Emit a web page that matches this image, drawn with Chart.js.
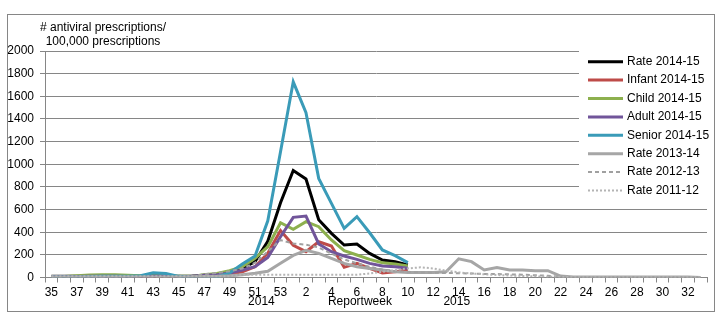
<!DOCTYPE html>
<html>
<head>
<meta charset="utf-8">
<script src="https://cdn.jsdelivr.net/npm/chart.js@4"></script>
<style>
  body { margin: 0; background: #fff; }
  canvas { display: block; }
</style>
</head>
<body>
<canvas id="rxChart" width="721" height="329"></canvas>
<script>
// Report weeks: 35-53 of 2014, then 1-33 of 2015
const weeks = [35, 36, 37, 38, 39, 40, 41, 42, 43, 44, 45, 46, 47, 48, 49, 50, 51, 52, 53,
  1, 2, 3, 4, 5, 6, 7, 8, 9, 10, 11, 12, 13, 14, 15, 16, 17, 18, 19, 20, 21, 22, 23, 24, 25,
  26, 27, 28, 29, 30, 31, 32, 33];

// 2014-15 season, weeks 35 through 10
const rate1415 = [8, 8, 10, 12, 15, 15, 12, 12, 15, 12, 10, 10, 20, 25, 40, 80, 140, 320, 660,
  945, 870, 510, 390, 287, 296, 213, 154, 139, 110];
const infant1415 = [5, 5, 5, 5, 8, 8, 5, 5, 5, 3, 2, 2, 10, 15, 30, 50, 95, 215, 415,
  285, 228, 316, 278, 90, 125, 81, 40, 51, 66];
const child1415 = [10, 10, 15, 22, 25, 25, 20, 15, 15, 12, 10, 10, 25, 35, 60, 95, 170, 272, 484,
  425, 493, 449, 331, 237, 199, 160, 131, 119, 101];
const adult1415 = [10, 10, 8, 10, 10, 10, 8, 8, 10, 10, 8, 10, 20, 25, 40, 66, 95, 178, 360,
  531, 543, 296, 228, 190, 160, 125, 101, 95, 81];
const senior1415 = [5, 5, 5, 8, 10, 10, 10, 15, 42, 35, 10, 3, 5, 5, 40, 120, 190, 500, 1110,
  1728, 1455, 875, 655, 434, 537, 395, 243, 193, 131];

// earlier seasons, full year
const rate1314 = [5, 5, 5, 5, 5, 5, 5, 5, 5, 5, 5, 5, 8, 10, 15, 25, 37, 55, 125,
  195, 240, 213, 169, 125, 95, 80, 66, 51, 45, 45, 45, 50, 165, 140, 66, 87, 66, 66, 60, 60, 13,
  5, 5, 5, 5, 5, 5, 5, 5, 5, 5, 0];
const rate1213 = [5, 5, 5, 5, 5, 5, 5, 5, 5, 5, 5, 8, 30, 40, 55, 80, 130, 230, 330,
  300, 290, 265, 210, 160, 125, 95, 70, 55, 50, 45, 42, 40, 38, 35, 32, 30, 28, 25, 20, 15, 8,
  3, 3, 3, 3, 3, 3, 3, 3, 3, 3, 3];
const rate1112 = [10, 10, 10, 10, 10, 10, 10, 10, 10, 10, 10, 10, 10, 10, 10, 25, 25, 25, 25,
  25, 25, 25, 25, 25, 25, 35, 50, 65, 80, 90, 80, 60, 45, 35, 28, 22, 18, 14, 10, 7, 5,
  3, 3, 3, 3, 3, 3, 3, 3, 3, 3, 3];

const yTitle = ['# antiviral prescriptions/', '100,000 prescriptions'];
const FONT = '"Liberation Sans", Arial, sans-serif';

const series = [
  { label: 'Rate 2014-15', data: rate1415, color: '#000000', width: 3, dash: [] },
  { label: 'Infant 2014-15', data: infant1415, color: '#BE4B48', width: 3, dash: [] },
  { label: 'Child 2014-15', data: child1415, color: '#8DB04E', width: 3, dash: [] },
  { label: 'Adult 2014-15', data: adult1415, color: '#71559A', width: 3, dash: [] },
  { label: 'Senior 2014-15', data: senior1415, color: '#3A9BB8', width: 3, dash: [] },
  { label: 'Rate 2013-14', data: rate1314, color: '#A6A6A6', width: 3, dash: [] },
  { label: 'Rate 2012-13', data: rate1213, color: '#A0A0A0', width: 2, dash: [4, 3] },
  { label: 'Rate 2011-12', data: rate1112, color: '#B4B4B4', width: 2, dash: [2, 2] }
];

// frame, axis title, year captions and the legend box drawn over the plot
const overlay = {
  id: 'overlay',
  afterDraw(chart) {
    const ctx = chart.ctx;
    const xs = chart.scales.x;
    ctx.save();
    ctx.strokeStyle = '#868686';
    ctx.lineWidth = 1;
    ctx.strokeRect(7.5, 14.5, 707, 297);

    ctx.fillStyle = '#000';
    ctx.font = '12px ' + FONT;
    ctx.textAlign = 'center';
    ctx.textBaseline = 'middle';
    yTitle.forEach((t, i) => ctx.fillText(t, 103, 28 + i * 14));

    const rowY = 302;
    ctx.fillText('2014', (xs.getPixelForValue(16) + xs.getPixelForValue(17)) / 2, rowY);
    ctx.fillText('Reportweek', xs.getPixelForValue(24) + 3, rowY);
    ctx.fillText('2015', xs.getPixelForValue(32) - 2, rowY);

    ctx.fillStyle = '#fff';
    ctx.fillRect(579, 46, 134, 152);
    ctx.textAlign = 'left';
    chart.data.datasets.forEach((ds, i) => {
      const y = 61.7 + i * 18.4;
      ctx.beginPath();
      ctx.strokeStyle = ds.borderColor;
      ctx.lineWidth = ds.borderWidth;
      ctx.setLineDash(ds.borderDash);
      ctx.moveTo(588, y);
      ctx.lineTo(623, y);
      ctx.stroke();
      ctx.setLineDash([]);
      ctx.fillStyle = '#000';
      ctx.fillText(ds.label, 627, y);
    });
    ctx.restore();
  }
};

new Chart(document.getElementById('rxChart').getContext('2d'), {
  type: 'line',
  data: {
    labels: weeks,
    datasets: series.map((s, i) => ({
      label: s.label,
      data: s.data,
      borderColor: s.color,
      backgroundColor: s.color,
      borderWidth: s.width,
      borderDash: s.dash,
      pointRadius: 0,
      tension: 0,
      fill: false,
      order: series.length - i
    }))
  },
  options: {
    responsive: false,
    animation: false,
    layout: { padding: { top: 51, right: 14, bottom: 0, left: 0 } },
    plugins: {
      legend: { display: false },
      tooltip: { enabled: false }
    },
    scales: {
      x: {
        offset: true,
        grid: { drawOnChartArea: false, drawTicks: true, tickLength: 5, offset: true, color: '#868686' },
        border: { color: '#868686' },
        ticks: {
          autoSkip: false,
          maxRotation: 0,
          minRotation: 0,
          padding: 3,
          color: '#000',
          font: { family: FONT, size: 12 },
          callback: (v, i) => (i % 2 === 0 ? String(weeks[i]) : '')
        },
        afterFit: (scale) => { scale.height = 51.5; }
      },
      y: {
        min: 0,
        max: 2000,
        grid: { color: '#868686', tickLength: 5 },
        border: { color: '#868686' },
        ticks: {
          stepSize: 200,
          padding: 6,
          color: '#000',
          font: { family: FONT, size: 12 },
          callback: (v) => String(v)
        },
        afterFit: (scale) => { scale.width = 45; }
      }
    }
  },
  plugins: [overlay]
});
</script>
</body>
</html>
